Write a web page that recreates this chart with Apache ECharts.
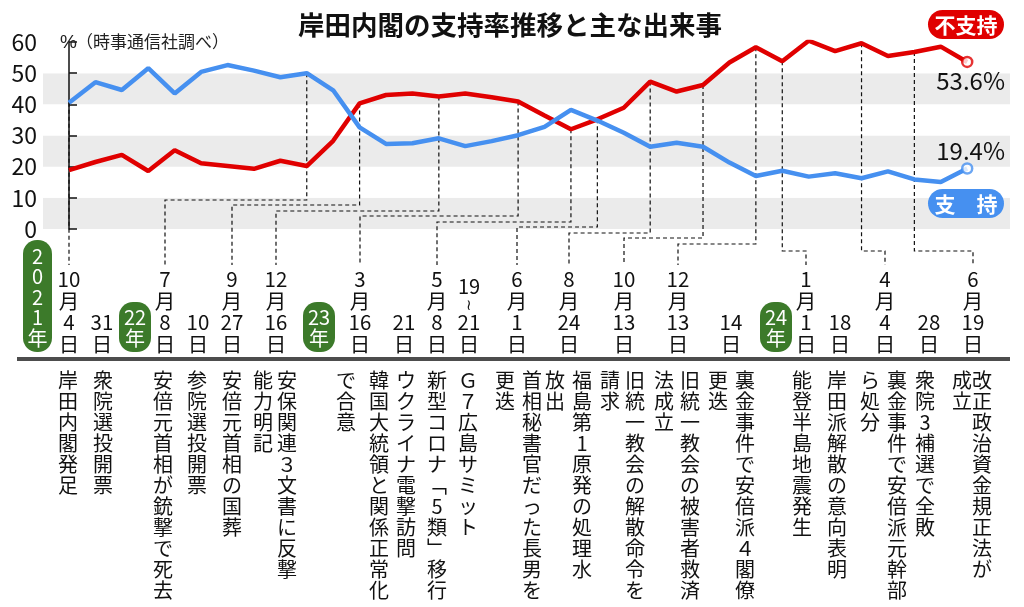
<!DOCTYPE html>
<html><head><meta charset="utf-8">
<script src="https://cdn.jsdelivr.net/npm/echarts@6/dist/echarts.min.js"></script>
<style>html,body{margin:0;padding:0;background:#fff}#c{width:1024px;height:607px}</style>
</head><body><div id="c"></div>
<script>
// ---- data ----
const months = ['2021-10','2021-11','2021-12','2022-01','2022-02','2022-03','2022-04','2022-05','2022-06','2022-07','2022-08','2022-09','2022-10','2022-11','2022-12','2023-01','2023-02','2023-03','2023-04','2023-05','2023-06','2023-07','2023-08','2023-09','2023-10','2023-11','2023-12','2024-01','2024-02','2024-03','2024-04','2024-05','2024-06','2024-07','2024-08'];
const support = [40.5,47.1,44.6,51.6,43.5,50.4,52.6,50.8,48.7,50.0,44.5,32.6,27.3,27.5,29.1,26.6,28.2,30.1,32.8,38.2,34.8,30.9,26.4,27.7,26.4,21.3,17.0,18.7,16.8,17.9,16.3,18.5,15.9,15.1,19.4];
const disapprove = [18.9,21.5,23.8,18.6,25.3,21.1,20.2,19.3,21.9,20.2,28.3,40.3,43.0,43.5,42.5,43.5,42.3,40.9,36.4,32.0,35.2,38.9,47.3,44.1,46.2,53.4,58.3,53.8,60.4,57.1,59.6,55.5,56.8,58.5,53.6];
const yTicks = [0,10,20,30,40,50,60];
const title = '岸田内閣の支持率推移と主な出来事';
const unitSymbol = '%';
const unitNote = '（時事通信社調べ）';
const seriesNames = ['支持','不支持'];
const yearBadges = ['2021年','22年','23年','24年'];
// event dates: month / day (null month = same month as previous)
const eventMonth = ['10',null,'7',null,'9','12','3',null,'5',null,'6','8','10','12',null,'1',null,'4',null,'6'];
const eventDay   = ['4','31','8','10','27','16','16','21','8','21','1','24','13','13','14','1','18','4','28','19'];
const eventDayFrom = [null,null,null,null,null,null,null,null,null,'19',null,null,null,null,null,null,null,null,null,null];
const eventTexts = [
  ['岸田内閣発足'],['衆院選投開票'],['安倍元首相が銃撃で死去'],['参院選投開票'],['安倍元首相の国葬'],
  ['安保関連３文書に反撃','能力明記'],['韓国大統領と関係正常化','で合意'],['ウクライナ電撃訪問'],
  ['新型コロナ﹁5類﹂移行'],['Ｇ７広島サミット'],['首相秘書官だった長男を','更迭'],
  ['福島第1原発の処理水','放出'],['旧統一教会の解散命令を','請求'],['旧統一教会の被害者救済','法成立'],
  ['裏金事件で安倍派４閣僚','更迭'],['能登半島地震発生'],['岸田派解散の意向表明'],
  ['裏金事件で安倍派元幹部','ら処分'],['衆院3補選で全敗'],['改正政治資金規正法が','成立']
];
// poll month index each event is linked to, and which line
const eventPollIdx = [0,null,9,null,11,14,17,null,19,null,20,22,24,26,null,27,null,30,null,32];
const eventPollLine = ['support',null,'support',null,'disapprove','disapprove','disapprove',null,'disapprove',null,'disapprove','disapprove','disapprove','disapprove',null,'disapprove',null,'disapprove',null,'disapprove'];

// ---- layout ----
const labelX = [69,102,165,198,232,276,360,404,437,469,517,569,624,678,731,806,840,885,929,973];
const colX = [[68],[103],[163],[197],[232],[287,263],[379,346],[406],[437],[468],[532,505],[582,555],[635,610],[690,664],[745,718],[802],[837],[897,870],[925],[982,962]];
const elbowY = [240,null,200,null,205,211,216,null,222,null,227,233,238,244,null,251,null,251,null,251];
const badgeBox = [[23,240,29,112],[119,302,32,50],[303,302,32,50],[760,302,32,50]];
const RED = '#e00000', BLUE = '#4690f0', GREEN = '#3c7a2a';
const FF = "'Noto Sans CJK JP', sans-serif";

const chart = echarts.init(document.getElementById('c'));
const sVals = support.map((v,i)=>[i,v]);
const dVals = disapprove.map((v,i)=>[i,v]);
const last = months.length - 1;

const connectors = [];
eventPollIdx.forEach((p,i)=>{
  if (p === null) return;
  const v = eventPollLine[i] === 'support' ? support[p] : disapprove[p];
  connectors.push([p, v, labelX[i], elbowY[i]]);
});

const graphic = [];
graphic.push({type:'text', z:10, style:{text:title, x:510, y:25, font:'bold 26.5px '+FF, fill:'#111', textAlign:'center', textVerticalAlign:'middle', align:'center', verticalAlign:'middle'}});
graphic.push({type:'text', z:10, style:{text:unitSymbol, x:60, y:43, font:'19px "Liberation Sans", sans-serif', fill:'#222', textAlign:'left', textVerticalAlign:'middle', align:'left', verticalAlign:'middle'}});
graphic.push({type:'text', z:10, style:{text:unitNote, x:76, y:42, font:'17px '+FF, fill:'#222', textAlign:'left', textVerticalAlign:'middle', align:'left', verticalAlign:'middle'}});
// legend badges
graphic.push({type:'rect', z:10, shape:{x:928,y:10,width:76,height:29,r:14.5}, style:{fill:RED}});
graphic.push({type:'text', z:11, style:{text:seriesNames[1], x:966, y:25, font:'bold 21px '+FF, fill:'#fff', textAlign:'center', textVerticalAlign:'middle', align:'center', verticalAlign:'middle'}});
graphic.push({type:'rect', z:10, shape:{x:928,y:189,width:76,height:29,r:14.5}, style:{fill:BLUE}});
graphic.push({type:'text', z:11, style:{text:seriesNames[0].split('').join('　'), x:966, y:204, font:'bold 21px '+FF, fill:'#fff', textAlign:'center', textVerticalAlign:'middle', align:'center', verticalAlign:'middle'}});
// end values
graphic.push({type:'text', z:10, style:{text:disapprove[last].toFixed(1)+'%', x:1005, y:81, font:'24px '+FF, fill:'#111', textAlign:'right', textVerticalAlign:'middle', align:'right', verticalAlign:'middle'}});
graphic.push({type:'text', z:10, style:{text:support[last].toFixed(1)+'%', x:1005, y:151, font:'24px '+FF, fill:'#111', textAlign:'right', textVerticalAlign:'middle', align:'right', verticalAlign:'middle'}});
// date labels
const LH = 21.4, TOP = 269;
eventDay.forEach((d,i)=>{
  const m = eventMonth[i];
  const txt = m ? (m+'\n月\n'+d+'\n日') : (d+'\n日');
  const y = m ? TOP : TOP + 2*LH;
  graphic.push({type:'text', z:10, style:{text:txt, x:labelX[i], y:y, font:'20.5px '+FF, lineHeight:LH, fill:'#111', textAlign:'center', textVerticalAlign:'top', align:'center', verticalAlign:'top'}});
  if (eventDayFrom[i]) {
    graphic.push({type:'text', z:10, style:{text:eventDayFrom[i], x:labelX[i], y:286, font:'20px '+FF, fill:'#111', textAlign:'center', textVerticalAlign:'middle', align:'center', verticalAlign:'middle'}});
    graphic.push({type:'text', z:10, style:{text:'≀', x:labelX[i], y:304, font:'15px '+FF, fill:'#111', textAlign:'center', textVerticalAlign:'middle', align:'center', verticalAlign:'middle'}});
  }
});
// year badges
yearBadges.forEach((t,i)=>{
  const b = badgeBox[i];
  graphic.push({type:'rect', z:10, shape:{x:b[0],y:b[1],width:b[2],height:b[3],r:14}, style:{fill:GREEN}});
  const num = t.replace('年','');
  const txt = (num.length === 4 ? num.split('').join('\n') : num) + '\n年';
  graphic.push({type:'text', z:11, style:{text:txt, x:b[0]+b[2]/2, y:b[1]+b[3]/2+1, font:'20px '+FF, lineHeight: num.length===4 ? 20.5 : 21, fill:'#fff', textAlign:'center', textVerticalAlign:'middle', align:'center', verticalAlign:'middle'}});
});
// separator bar
graphic.push({type:'rect', z:10, shape:{x:17,y:357,width:993,height:4}, style:{fill:'#4d4d4d'}});
// event texts (vertical)
eventTexts.forEach((cols,i)=>{
  cols.forEach((c,j)=>{
    graphic.push({type:'text', z:10, style:{text:c.split('').join('\n'), x:colX[i][j], y:370, font:'20px '+FF, lineHeight:21, fill:'#111', textAlign:'center', textVerticalAlign:'top', align:'center', verticalAlign:'top'}});
  });
});

chart.setOption({
  animation:false,
  backgroundColor:'#fff',
  grid:{left:43, right:14, top:42, bottom:378},
  xAxis:{type:'value', min:-0.984, max:35.62, show:false},
  yAxis:{type:'value', min:yTicks[0], max:yTicks[yTicks.length-1], interval:10,
    axisLine:{show:true, lineStyle:{color:'#111', width:1.5}},
    axisTick:{show:true, inside:true, length:8, lineStyle:{color:'#111', width:1.5}},
    axisLabel:{fontSize:23, color:'#111', margin:6, fontFamily:FF},
    splitLine:{show:false},
    splitArea:{show:true, areaStyle:{color:['#ebebeb','#ffffff']}}
  },
  series:[
    {type:'custom', coordinateSystem:'cartesian2d', z:1, silent:true, clip:false,
     encode:{x:0,y:1}, data:connectors,
     renderItem(params, api){
       const p = api.coord([api.value(0), api.value(1)]);
       const lx = api.value(2), ey = api.value(3);
       return {type:'polyline', shape:{points:[[p[0],p[1]],[p[0],ey],[lx,ey],[lx,265]]},
         style:{stroke:'#111', lineWidth:1.2, lineDash:[4,3], fill:'none'}};
     }},
    {name:seriesNames[1], type:'line', z:3, data:dVals, symbol:'none', lineStyle:{color:RED, width:4.5}, itemStyle:{color:RED}},
    {name:seriesNames[0], type:'line', z:3, data:sVals, symbol:'none', lineStyle:{color:BLUE, width:4.5}, itemStyle:{color:BLUE}},
    {type:'scatter', z:4, data:[[last, disapprove[last]]], symbol:'circle', symbolSize:10, itemStyle:{color:'#fff', borderColor:RED, borderWidth:2.5}},
    {type:'scatter', z:4, data:[[last, support[last]]], symbol:'circle', symbolSize:10, itemStyle:{color:'#fff', borderColor:BLUE, borderWidth:2.5}}
  ],
  graphic: graphic
});
</script></body></html>
